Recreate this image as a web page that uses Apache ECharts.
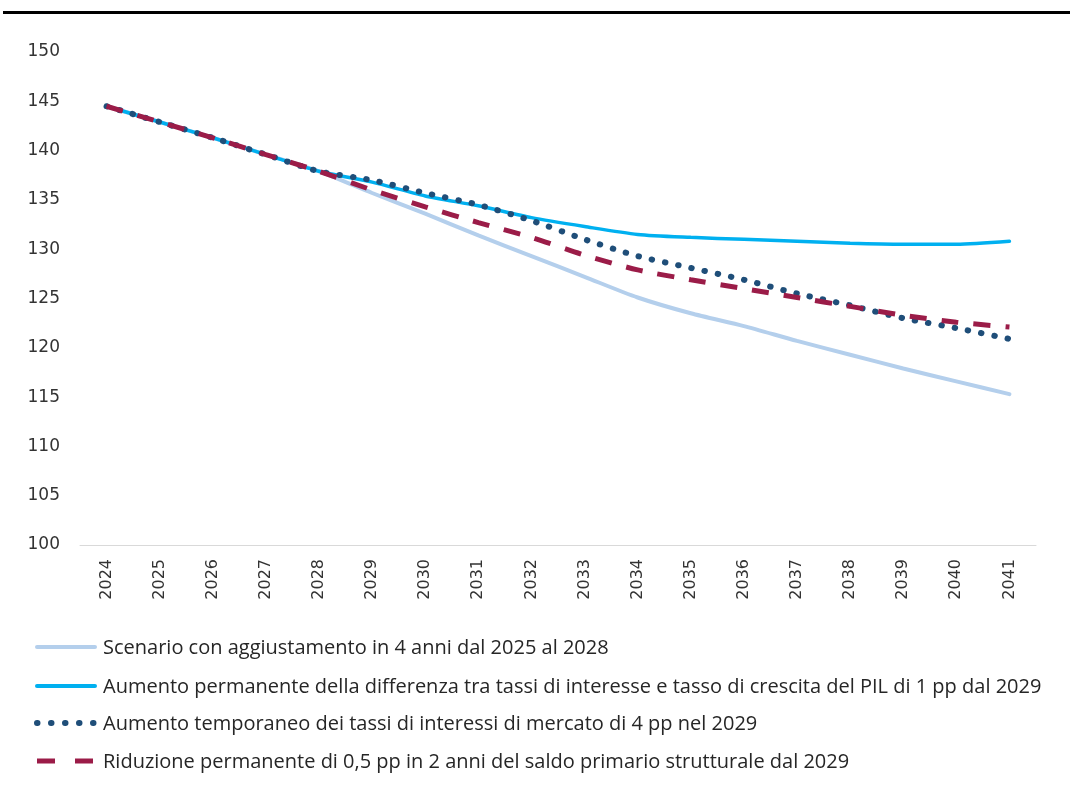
<!DOCTYPE html>
<html>
<head>
<meta charset="utf-8">
<style>
  html, body { margin: 0; padding: 0; background: #ffffff; }
  #chart { width: 1070px; height: 792px; }
</style>
<script src="https://cdn.jsdelivr.net/npm/echarts@6/dist/echarts.min.js"></script>
</head>
<body>
<div id="chart"></div>
<script>
// Debt-to-GDP paths (% of GDP), 2024-2041
const years = ['2024', '2025', '2026', '2027', '2028', '2029', '2030', '2031', '2032',
               '2033', '2034', '2035', '2036', '2037', '2038', '2039', '2040', '2041'];

const baseline = [144.5, 142.9, 141.3, 139.6, 137.9, 135.7, 133.6, 131.4, 129.3,
                  127.2, 125.1, 123.5, 122.2, 120.7, 119.3, 117.9, 116.6, 115.3];
const rateGrowthGap = [144.5, 142.9, 141.3, 139.6, 137.9, 136.8, 135.4, 134.4, 133.2,
                       132.3, 131.5, 131.2, 131.0, 130.8, 130.6, 130.5, 130.5, 130.8];
const marketRates = [144.5, 142.9, 141.3, 139.6, 137.9, 137.0, 135.7, 134.5, 132.9,
                     131.0, 129.3, 128.1, 126.9, 125.5, 124.3, 123.0, 122.0, 120.9];
const primaryBalance = [144.5, 142.9, 141.3, 139.6, 137.9, 136.0, 134.3, 132.7, 131.2,
                        129.4, 127.9, 126.9, 126.0, 125.1, 124.2, 123.3, 122.6, 122.1];

const seriesNames = [
  'Scenario con aggiustamento in 4 anni dal 2025 al 2028',
  'Aumento permanente della differenza tra tassi di interesse e tasso di crescita del PIL di 1 pp dal 2029',
  'Aumento temporaneo dei tassi di interessi di mercato di 4 pp nel 2029',
  'Riduzione permanente di 0,5 pp in 2 anni del saldo primario strutturale dal 2029'
];

const yTicks = { min: 100, max: 150, step: 5 };

// Line styles shared by the plotted series and the legend keys
const styles = [
  { color: '#b4cfec', width: 4, type: 'solid', cap: 'round' },
  { color: '#00b0f0', width: 3.5, type: 'solid', cap: 'round' },
  { color: '#1f4e79', width: 6, type: [0.5, 13], cap: 'round' },
  { color: '#9b1c48', width: 5, type: [17, 15], cap: 'butt' }
];
const seriesData = [baseline, rateGrowthGap, marketRates, primaryBalance];

const chart = echarts.init(document.getElementById('chart'), null, { renderer: 'canvas' });

// Legend drawn as graphic elements: a key line plus its label for each series
const legendTop = [647, 686, 723, 761];
const legendKeys = [
  { dash: null, cap: 'round' },
  { dash: null, cap: 'round' },
  { dash: [0.5, 13.5], cap: 'round' },
  { dash: [18, 20], cap: 'butt' }
];
const legendGraphics = [];
seriesNames.forEach(function (name, i) {
  const st = styles[i];
  legendGraphics.push({
    type: 'line',
    shape: { x1: 37, y1: legendTop[i], x2: i === 3 ? 93 : 95, y2: legendTop[i] },
    style: {
      stroke: st.color,
      lineWidth: i < 2 ? 4 : st.width,
      lineDash: legendKeys[i].dash,
      lineCap: legendKeys[i].cap
    }
  });
  legendGraphics.push({
    type: 'text',
    left: 103,
    top: legendTop[i] - 9,
    style: {
      text: name,
      fill: '#262626',
      font: '20px "Open Sans"'
    }
  });
});

chart.setOption({
  animation: false,
  backgroundColor: '#ffffff',
  graphic: [
    { type: 'rect', shape: { x: 3, y: 11, width: 1067, height: 3 }, style: { fill: '#000000' } }
  ].concat(legendGraphics),
  grid: { left: 80, right: 34, top: 52, bottom: 247, containLabel: false },
  xAxis: {
    type: 'category',
    data: years,
    boundaryGap: true,
    axisLine: { show: true, lineStyle: { color: '#d9d9d9', width: 1 } },
    axisTick: { show: false },
    axisLabel: {
      rotate: 90,
      margin: 14,
      color: '#333333',
      fontFamily: 'DejaVu Sans',
      fontSize: 16
    },
    splitLine: { show: false }
  },
  yAxis: {
    type: 'value',
    min: yTicks.min,
    max: yTicks.max,
    interval: yTicks.step,
    axisLine: { show: false },
    axisTick: { show: false },
    splitLine: { show: false },
    axisLabel: {
      margin: 20,
      color: '#333333',
      fontFamily: 'DejaVu Sans',
      fontSize: 17
    }
  },
  series: seriesNames.map(function (name, i) {
    return {
      name: name,
      type: 'line',
      data: seriesData[i],
      symbol: 'none',
      smooth: 0.25,
      z: 2 + i,
      lineStyle: styles[i],
      itemStyle: { color: styles[i].color }
    };
  })
});
</script>
</body>
</html>
